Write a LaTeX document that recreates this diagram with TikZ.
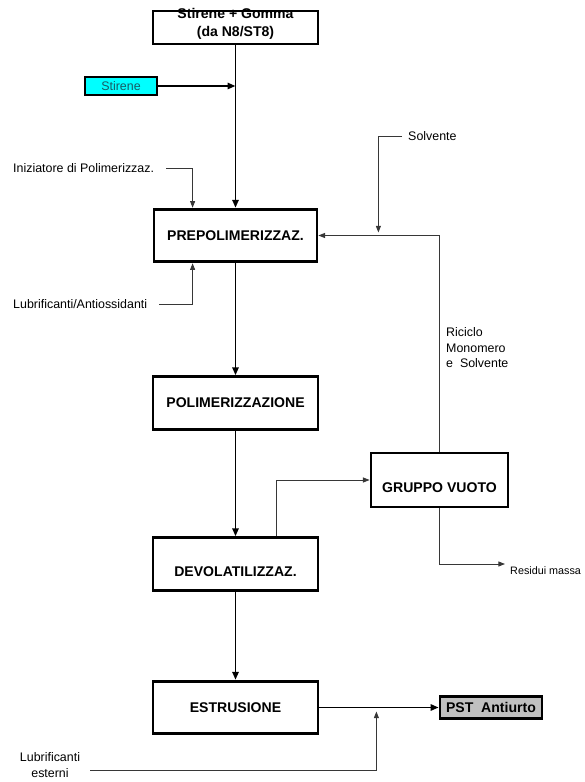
\documentclass[tikz,border=0pt]{standalone}
\usepackage{fontspec}
\setmainfont{Liberation Sans}
\usetikzlibrary{arrows.meta, positioning, calc}
\definecolor{stirenecyan}{RGB}{0, 255, 255}
\definecolor{stirenetext}{RGB}{25, 90, 100}
\definecolor{pstgray}{RGB}{192, 192, 192}
\definecolor{feedgray}{RGB}{55, 55, 55}

\begin{document}
\begin{tikzpicture}[
  x=0.3mm, y=-0.3mm,
  every node/.style={font=\fontsize{10.6}{13.5}\selectfont},
  stage/.style={draw, line width=2.4pt, minimum width=49.5mm, minimum height=15.8mm, inner sep=0pt, font=\fontsize{12}{13}\selectfont\bfseries},
  feedbox/.style={draw, line width=1.8pt, inner sep=0pt},
  arrow/.style={-{Triangle[length=2.4mm, width=1.9mm]}, line width=1.6pt},
  feed/.style={-{Triangle[length=2mm, width=1.5mm]}, line width=0.8pt, color=feedgray},
  label/.style={inner sep=0pt, align=left}
]
  \useasboundingbox (0,0) rectangle (584,782);

  % Alimentazione
  \node[font=\fontsize{12}{15}\selectfont\bfseries, align=center, inner sep=0pt] (srctxt) at (235.5, 24) {Stirene + Gomma\\(da N8/ST8)};
  \node[stage, minimum height=9.9mm] (src) at (235.5, 27.5) {};
  \node[feedbox, fill=stirenecyan, text=stirenetext, minimum width=21.6mm, minimum height=5.4mm] (stirene) at (121, 86) {Stirene};

  % Fasi
  \node[stage, minimum width=48.9mm] (prepol) at (235.5, 235.5) {PREPOLIMERIZZAZ.};
  \node[stage] (polim) at (235.5, 403) {POLIMERIZZAZIONE};
  \node[stage, text height=22pt, text depth=0pt] (devol) at (235.5, 564) {DEVOLATILIZZAZ.};
  \node[stage, minimum width=41.1mm, minimum height=16.2mm, text height=22pt, text depth=0pt] (gruppo) at (439.5, 480) {GRUPPO VUOTO};
  \node[stage] (estr) at (235.5, 707.5) {ESTRUSIONE};
  \node[feedbox, line width=2.4pt, fill=pstgray, minimum width=30.6mm, minimum height=6.6mm, font=\fontsize{12}{13}\selectfont\bfseries] (pst) at (491, 707.5) {PST\ \ Antiurto};

  % Etichette
  \node[label, anchor=west] (ini) at (13, 168) {Iniziatore di Polimerizzaz.};
  \node[label, anchor=west] (lubr) at (13, 304) {Lubrificanti/Antiossidanti};
  \node[label, anchor=west] (solv) at (408, 136) {Solvente};
  \node[label, anchor=north west] (ricic) at (446, 327) {Riciclo\\Monomero\\e\ \ Solvente};
  \node[label, anchor=west, font=\fontsize{9.2}{11}\selectfont] (resid) at (510, 571) {Residui massa};
  \node[label, align=center] (lubest) at (50, 765) {Lubrificanti\\esterni};

  \draw[arrow] (src) -- (prepol);
  \draw[arrow] (stirene) -- (stirene -| src);
  \draw[feed] ($(ini.east)+(12,0)$) -| ($(prepol.north west)+(40,0)$);
  \draw[feed] ($(lubr.east)+(12,0)$) -| ($(prepol.south west)+(40,0)$);
  \draw[feed] ($(solv.west)+(-6,0)$) -| ($(prepol.east)+(60,-3)$);
  \draw[feed] (gruppo.north) |- (prepol.east);

  \draw[arrow] (prepol) -- (polim);
  \draw[arrow] (polim) -- (devol);
  \draw[arrow] (devol) -- (estr);
  \draw[feed] ($(devol.north)+(40.5,0)$) |- (gruppo.west);
  \draw[feed] (gruppo.south) |- ($(resid.west)+(-5,-7)$);

  \draw[arrow] (estr) -- (pst);
  \draw[feed] ($(lubest.east)+(10,5)$) -| ($(estr.east)+(57,4)$);

\end{tikzpicture}
\end{document}
